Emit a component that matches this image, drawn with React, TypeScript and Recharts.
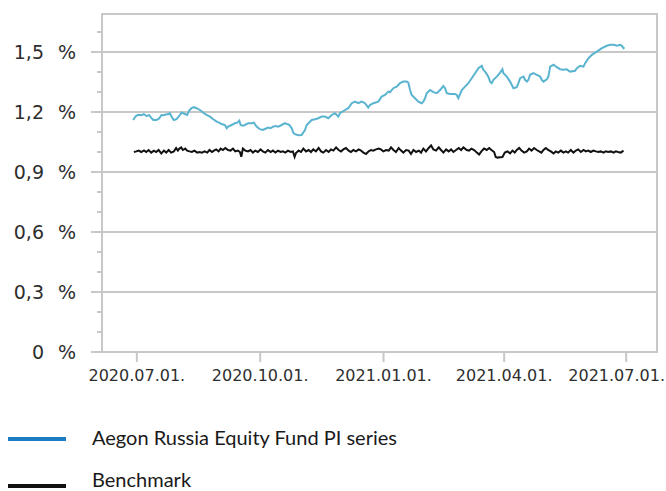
import React from 'react';
import { LineChart, Line, XAxis, YAxis, ReferenceLine, ReferenceArea } from 'recharts';

// x positions are days counted from 2020.07.01.
const xTickDays = [0, 92, 184, 274, 365];
const xTickLabels = ['2020.07.01.', '2020.10.01.', '2021.01.01.', '2021.04.01.', '2021.07.01.'];
const yTicks = [0, 0.1, 0.2, 0.3, 0.4, 0.5, 0.6, 0.7, 0.8, 0.9, 1.0, 1.1, 1.2, 1.3, 1.4, 1.5, 1.6];
const yMajorTicks = [0, 0.3, 0.6, 0.9, 1.2, 1.5];
const yMajorLabels = ['0', '0,3', '0,6', '0,9', '1,2', '1,5'];

const seriesNames = ['Aegon Russia Equity Fund PI series', 'Benchmark'];

const fundDays = [
  -2.8, -0.7, 1, 3.5, 5.2, 7.2, 9.2, 11, 12.2, 14.7,
  16.6, 18.4, 20.2, 22.2, 23.4, 24.6, 25.9, 27.1, 27.6, 29.6,
  31.6, 33.4, 35.8, 37.5, 39, 40.8, 42.5, 44.6, 47, 49.5,
  52, 54.5, 57, 59.5, 61.4, 63.2, 65.7, 67, 68.1, 70.7,
  73.2, 74.9, 76.4, 77.4, 79.3, 80.6, 83.1, 85.6, 87.3, 89.3,
  91.8, 93.8, 95.5, 98, 99.8, 101.7, 103.8, 105.5, 108, 110.5,
  111.7, 112.9, 114.2, 115.5, 116.7, 117.9, 120.4, 122.9, 125.4, 126.7,
  130.4, 132.9, 135.3, 137.9, 140.3, 142.8, 145.3, 147.8, 150.3, 151.5,
  155.3, 157.7, 160.3, 162.7, 165.2, 167.7, 170.2, 172.6, 173.9, 176.4,
  180.1, 182.6, 185.1, 187.6, 188.8, 191.3, 193.8, 196.3, 198.8, 201.3,
  202.5, 203.8, 205, 207.5, 210, 212.5, 213.7, 215, 216.2, 218.7,
  221.2, 223.7, 226.2, 228.6, 229.9, 231.2, 233.6, 237.4, 238.6, 239.8,
  242.4, 244.8, 247.3, 249.8, 252.3, 254.8, 257.3, 258.4, 259.8, 262.2,
  263.5, 264.7, 266, 268.5, 271, 272.7, 273.4, 276, 278.4, 279.7,
  280.9, 283.4, 284.6, 285.9, 288.4, 289.6, 290.9, 292.1, 293.3, 295.8,
  298.4, 300.8, 302.1, 303.3, 305.8, 307, 308.3, 310.8, 313.3, 315.7,
  318.2, 320.7, 322, 323.2, 326.9, 328.2, 330.7, 333.1, 334.4, 336.9,
  339.4, 343.1, 346.9, 350.6, 353.1, 355.6, 358.1, 360.5, 361.8, 363, 363.7,
];
const fundValues = [
  1.160, 1.180, 1.186, 1.184, 1.189, 1.180, 1.184, 1.169, 1.160, 1.160,
  1.167, 1.185, 1.184, 1.189, 1.189, 1.194, 1.177, 1.164, 1.160, 1.164,
  1.180, 1.197, 1.190, 1.185, 1.207, 1.219, 1.224, 1.219, 1.210, 1.197,
  1.185, 1.177, 1.164, 1.152, 1.147, 1.140, 1.135, 1.119, 1.127, 1.135,
  1.144, 1.147, 1.157, 1.135, 1.132, 1.135, 1.144, 1.144, 1.147, 1.127,
  1.114, 1.110, 1.115, 1.122, 1.119, 1.127, 1.130, 1.127, 1.135, 1.144,
  1.140, 1.139, 1.132, 1.119, 1.097, 1.089, 1.084, 1.085, 1.110, 1.135,
  1.160, 1.164, 1.169, 1.177, 1.177, 1.169, 1.185, 1.194, 1.177, 1.194,
  1.210, 1.219, 1.244, 1.252, 1.244, 1.252, 1.244, 1.222, 1.235, 1.244,
  1.252, 1.277, 1.285, 1.302, 1.299, 1.319, 1.327, 1.344, 1.352, 1.352,
  1.347, 1.310, 1.285, 1.269, 1.252, 1.244, 1.252, 1.269, 1.294, 1.310,
  1.299, 1.294, 1.310, 1.330, 1.319, 1.294, 1.290, 1.290, 1.285, 1.269,
  1.310, 1.327, 1.344, 1.369, 1.394, 1.419, 1.431, 1.411, 1.402, 1.377,
  1.352, 1.344, 1.361, 1.377, 1.397, 1.414, 1.394, 1.377, 1.352, 1.335,
  1.319, 1.324, 1.344, 1.369, 1.377, 1.361, 1.352, 1.361, 1.386, 1.394,
  1.386, 1.377, 1.361, 1.352, 1.364, 1.377, 1.427, 1.436, 1.424, 1.414,
  1.411, 1.414, 1.407, 1.402, 1.406, 1.419, 1.431, 1.427, 1.444, 1.469,
  1.486, 1.502, 1.519, 1.531, 1.536, 1.536, 1.532, 1.536, 1.531, 1.519, 1.524,
];

const benchDays = [
  -2.2, -0.4, 1.3, 3.3, 5.3, 7.0, 8.8, 10.7, 12.7, 14.4,
  16.2, 18.2, 20.2, 21.9, 23.7, 25.6, 27.6, 29.3, 30.6, 31.8,
  33.1, 34.3, 36.1, 37.5, 39.3, 41.0, 43.0, 45.0, 46.7, 48.5,
  50.5, 52.5, 54.2, 56.0, 57.5, 59.2, 61.0, 62.5, 64.2, 66.0,
  68.0, 69.9, 71.7, 73.4, 75.4, 76.9, 77.9, 79.1, 80.9, 82.9,
  84.8, 86.6, 88.3, 90.3, 92.3, 94.0, 95.8, 97.8, 99.8, 101.5,
  103.3, 105.3, 107.2, 109.0, 110.7, 112.7, 114.7, 116.4, 117.7, 118.7,
  120.7, 122.4, 124.2, 126.2, 128.2, 129.9, 131.6, 133.6, 135.6, 137.4,
  139.1, 141.1, 143.1, 144.8, 146.6, 148.6, 150.5, 152.3, 154.0, 156.0,
  158.0, 159.7, 161.5, 163.5, 165.5, 167.2, 169.0, 171.0, 172.9, 174.7,
  176.4, 178.4, 180.4, 182.1, 183.9, 185.9, 187.9, 189.6, 191.4, 193.3,
  195.3, 197.1, 198.8, 200.8, 202.8, 204.5, 206.3, 208.3, 210.3, 212.0,
  213.7, 215.7, 217.7, 219.5, 221.2, 223.2, 225.2, 226.9, 228.7, 230.7,
  232.6, 234.4, 236.1, 238.1, 240.1, 241.9, 243.6, 246.1, 247.8, 249.6,
  251.6, 253.6, 255.3, 257.0, 259.0, 261.0, 262.8, 264.5, 266.5, 267.7,
  269.0, 271.0, 272.7, 274.5, 276.4, 278.4, 280.2, 281.9, 283.4, 285.2,
  286.9, 288.9, 290.9, 292.6, 294.4, 296.3, 298.3, 300.1, 301.8, 303.3,
  305.1, 306.8, 308.8, 310.8, 312.5, 314.3, 316.3, 318.2, 320.0, 321.7,
  323.7, 325.7, 327.5, 329.2, 331.2, 333.2, 334.9, 336.7, 338.6, 340.6,
  342.4, 344.1, 346.1, 348.1, 349.8, 351.6, 353.6, 355.6, 357.3, 359.0,
  361.0, 363.0,
];
const benchValues = [
  1.000, 1.003, 1.007, 1.000, 1.008, 1.000, 1.010, 0.997, 1.007, 1.000,
  1.010, 0.993, 1.007, 0.997, 1.010, 0.997, 1.003, 1.020, 1.007, 1.017,
  1.023, 1.010, 1.017, 1.007, 1.003, 1.000, 1.007, 0.997, 1.000, 0.997,
  1.003, 0.997, 1.010, 1.000, 1.007, 1.013, 1.003, 1.017, 1.010, 1.020,
  1.010, 1.007, 1.017, 1.003, 1.007, 1.000, 0.976, 1.017, 1.007, 1.003,
  1.010, 0.997, 1.007, 1.000, 1.013, 1.003, 0.997, 1.010, 1.000, 1.007,
  0.997, 1.007, 1.000, 1.003, 0.997, 1.007, 1.000, 1.003, 0.976, 0.995,
  1.007, 1.000, 1.017, 1.003, 1.010, 1.000, 1.013, 1.003, 1.020, 1.003,
  0.997, 1.010, 1.000, 1.013, 1.007, 1.023, 1.010, 1.003, 1.013, 1.020,
  1.007, 1.000, 1.010, 1.003, 1.013, 1.007, 0.997, 0.990, 1.003, 1.010,
  1.007, 1.013, 1.017, 1.013, 1.003, 1.010, 1.007, 1.023, 1.010, 1.000,
  1.020, 1.007, 0.997, 1.010, 1.007, 0.990, 1.010, 1.000, 1.007, 0.997,
  1.017, 1.003, 1.020, 1.033, 1.013, 1.007, 1.023, 1.010, 0.997, 1.013,
  1.003, 1.013, 1.000, 1.010, 1.020, 1.010, 1.023, 1.010, 1.007, 1.017,
  1.010, 0.997, 0.987, 1.003, 1.017, 1.010, 1.020, 1.010, 1.000, 0.975,
  0.972, 0.974, 0.975, 0.997, 1.003, 0.993, 1.007, 0.997, 1.010, 1.020,
  1.007, 0.997, 1.003, 1.017, 1.007, 1.020, 1.010, 1.003, 0.997, 1.010,
  1.020, 1.010, 1.003, 0.993, 1.003, 0.997, 1.007, 0.997, 1.003, 0.997,
  1.010, 0.997, 1.007, 1.013, 1.000, 1.010, 1.003, 1.007, 1.000, 1.007,
  1.003, 1.000, 1.003, 0.997, 1.003, 1.000, 1.003, 0.997, 1.003, 1.000,
  0.997, 1.007,
];

const fundData = fundDays.map((d, i) => ({ day: d, value: fundValues[i] }));
const benchData = benchDays.map((d, i) => ({ day: d, value: benchValues[i] }));

const CHART_W = 666;
const GRID = '#c8c8c8';
const TEXT = '#2e2e2e';
const FUND_COLOR = '#5ab4d0';
const FUND_LEGEND = '#1d7bc2';
const BENCH_COLOR = '#111111';
const AXIS_FONT = '"DejaVu Sans", sans-serif';
const LEGEND_FONT = 'Lato, sans-serif';

const YTick = (props: any) => {
  const { x, y, payload } = props;
  const v = payload.value;
  const idx = yMajorTicks.findIndex((m) => Math.abs(m - v) < 1e-6);
  if (idx < 0) {
    return <line x1={x - 5} x2={x} y1={y} y2={y} stroke={GRID} strokeWidth={2} />;
  }
  return (
    <g>
      <line x1={x - 11} x2={x} y1={y} y2={y} stroke={GRID} strokeWidth={2} />
      <text x={x - 58} y={y} textAnchor="end" dominantBaseline="central" fontSize={19} fill={TEXT} fontFamily={AXIS_FONT}>
        {yMajorLabels[idx]}
      </text>
      <text x={x - 44} y={y} textAnchor="start" dominantBaseline="central" fontSize={19} fill={TEXT} fontFamily={AXIS_FONT}>
        %
      </text>
    </g>
  );
};

const XTick = (props: any) => {
  const { x, y, payload } = props;
  const i = xTickDays.indexOf(payload.value);
  const label = i >= 0 ? xTickLabels[i] : '';
  const halfW = 48;
  const overflow = x + halfW > CHART_W - 1;
  return (
    <text
      x={overflow ? CHART_W - 1 : x}
      y={y}
      dy="0.71em"
      textAnchor={overflow ? 'end' : 'middle'}
      fontSize={16}
      fill={TEXT}
      fontFamily={AXIS_FONT}
    >
      {label}
    </text>
  );
};

export default function App() {
  return (
    <div style={{ position: 'absolute', left: 0, top: 0, width: 666, height: 491, background: '#fff', overflow: 'hidden' }}>
      <LineChart width={CHART_W} height={394} margin={{ top: 14, right: 9, left: 0, bottom: 0 }}>
        <XAxis
          type="number"
          dataKey="day"
          domain={[-26, 388]}
          ticks={xTickDays}
          axisLine={{ stroke: GRID, strokeWidth: 2 }}
          tickLine={{ stroke: GRID, strokeWidth: 2 }}
          tickSize={10}
          tickMargin={8}
          height={42}
          tick={<XTick />}
          allowDataOverflow
        />
        <YAxis
          type="number"
          domain={[0, 1.69]}
          ticks={yTicks}
          interval={0}
          width={102}
          axisLine={{ stroke: GRID, strokeWidth: 2 }}
          tickLine={false}
          tickSize={0}
          tickMargin={0}
          tick={<YTick />}
          allowDataOverflow
        />
        <ReferenceArea x1={-26} x2={388} y1={0} y2={1.69} fill="none" stroke={GRID} strokeWidth={2} />
        {yMajorTicks.slice(1).map((v) => (
          <ReferenceLine key={v} y={v} stroke={GRID} strokeWidth={2} />
        ))}
        <Line data={benchData} dataKey="value" name={seriesNames[1]} type="linear" stroke={BENCH_COLOR} strokeWidth={2} dot={false} isAnimationActive={false} />
        <Line data={fundData} dataKey="value" name={seriesNames[0]} type="linear" stroke={FUND_COLOR} strokeWidth={2} dot={false} isAnimationActive={false} />
      </LineChart>
      <div style={{ position: 'absolute', left: 8, top: 437, width: 58, height: 4, background: FUND_LEGEND }} />
      <div style={{ position: 'absolute', left: 92, top: 428, fontFamily: LEGEND_FONT, fontSize: 20, color: '#1a1a1a', lineHeight: '18px', whiteSpace: 'nowrap' }}>
        {seriesNames[0]}
      </div>
      <div style={{ position: 'absolute', left: 8, top: 484, width: 58, height: 4, background: BENCH_COLOR }} />
      <div style={{ position: 'absolute', left: 92, top: 471, fontFamily: LEGEND_FONT, fontSize: 20, color: '#1a1a1a', lineHeight: '17px', whiteSpace: 'nowrap' }}>
        {seriesNames[1]}
      </div>
    </div>
  );
}
